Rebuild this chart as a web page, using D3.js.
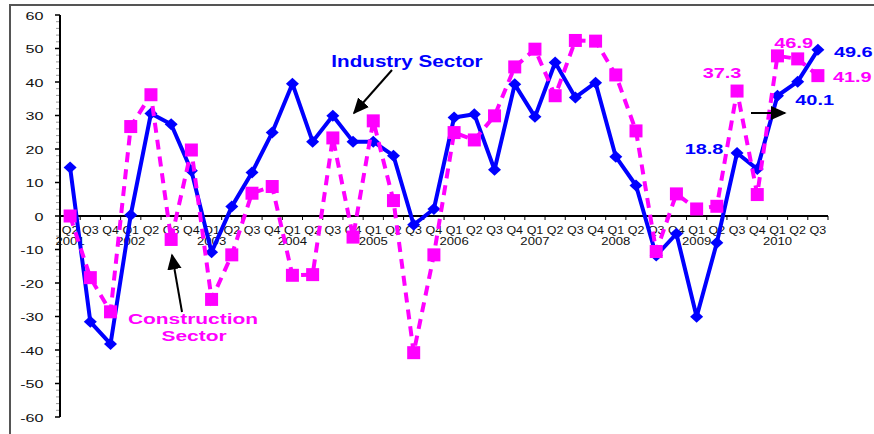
<!DOCTYPE html>
<html><head><meta charset="utf-8">
<script src="https://cdn.jsdelivr.net/npm/d3@7"></script>
<style>body{margin:0;background:#fff}svg{display:block}text{font-family:"Liberation Sans",Arial,sans-serif}</style>
</head><body><div id="chart"></div>
<script>
const categories = [
 "2001 Q2","2001 Q3","2001 Q4",
 "2002 Q1","2002 Q2","2002 Q3","2002 Q4",
 "2003 Q1","2003 Q2","2003 Q3","2003 Q4",
 "2004 Q1","2004 Q2","2004 Q3","2004 Q4",
 "2005 Q1","2005 Q2","2005 Q3","2005 Q4",
 "2006 Q1","2006 Q2","2006 Q3","2006 Q4",
 "2007 Q1","2007 Q2","2007 Q3","2007 Q4",
 "2008 Q1","2008 Q2","2008 Q3","2008 Q4",
 "2009 Q1","2009 Q2","2009 Q3","2009 Q4",
 "2010 Q1","2010 Q2","2010 Q3"];
const industry = [14.5,-31.6,-38.2,0.3,30.6,27.4,13.5,-10.8,2.8,13.0,24.9,39.5,22.2,29.9,22.2,22.2,18.0,-2.6,2.1,29.4,30.4,13.8,39.3,29.6,45.8,35.4,39.8,17.7,9.1,-11.8,-5.3,-30.1,-8.0,18.8,14.0,35.9,40.1,49.6];
const construction = [0,-18.4,-28.6,26.7,36.2,-7.0,19.7,-24.9,-11.6,6.8,8.8,-17.7,-17.5,23.3,-6.3,28.4,4.6,-40.8,-11.6,24.9,22.7,29.9,44.5,49.8,35.9,52.4,52.2,42.1,25.4,-10.6,6.6,2.1,2.9,37.3,6.4,47.8,46.9,41.9];
const yTicks = [-60,-50,-40,-30,-20,-10,0,10,20,30,40,50,60];
const seriesNames = ["Industry Sector","Construction Sector"];
const valueLabels = [
 {series:"industry", cat:"2009 Q3", text:"18.8"},
 {series:"industry", cat:"2010 Q2", text:"40.1"},
 {series:"industry", cat:"2010 Q3", text:"49.6"},
 {series:"construction", cat:"2009 Q3", text:"37.3"},
 {series:"construction", cat:"2010 Q2", text:"46.9"},
 {series:"construction", cat:"2010 Q3", text:"41.9"}];

const W=874,H=434;
const BLUE="#0000FF", MAG="#FF00FF";
const svg=d3.select("#chart").append("svg").attr("width",W).attr("height",H);
svg.append("rect").attr("width",W).attr("height",H).attr("fill","#fff");
svg.append("rect").attr("x",10).attr("y",5).attr("width",900).attr("height",460)
  .attr("fill","none").attr("stroke","#555").attr("stroke-width",2);

const defs=svg.append("defs");
defs.append("marker").attr("id","ah").attr("viewBox","0 0 10 10").attr("refX",9).attr("refY",5)
 .attr("markerWidth",8).attr("markerHeight",8).attr("markerUnits","strokeWidth").attr("orient","auto")
 .append("path").attr("d","M0,0.5L10,5L0,9.5Z").attr("fill","#000");

const x=d3.scaleBand().domain(categories).range([60,828]);
const y=d3.scaleLinear().domain([-60,60]).range([417,15]);
const cx=c=>x(c)+x.bandwidth()/2;

function stretched(g, tx, ty, txt, opts){
  return g.append("text").attr("transform",`translate(${tx},${ty}) scale(${opts.sx||1},1)`)
   .attr("text-anchor",opts.anchor||"middle").attr("font-size",opts.size)
   .attr("font-weight",opts.weight||"normal").attr("fill",opts.fill||"#000").text(txt);
}

// y axis
const yg=svg.append("g");
const minor=d3.range(-60,61,2).filter(v=>v%10!==0);
yg.selectAll("line.minor").data(minor).join("line").attr("x1",56).attr("x2",60)
 .attr("y1",d=>y(d)).attr("y2",d=>y(d)).attr("stroke","#999").attr("stroke-width",1);
yg.selectAll("line.major").data(yTicks).join("line").attr("x1",55).attr("x2",60)
 .attr("y1",d=>y(d)).attr("y2",d=>y(d)).attr("stroke","#000").attr("stroke-width",1.5);
yg.append("line").attr("x1",60).attr("x2",60).attr("y1",y(60)).attr("y2",y(-60)).attr("stroke","#000").attr("stroke-width",2);
yTicks.forEach(v=>stretched(yg,43.5,y(v)+4.5,String(v),{size:11.5,sx:1.4,anchor:"end",fill:"#111"}));

// x axis
const xg=svg.append("g");
const bounds=categories.map(c=>x(c)).concat([x.range()[1]]);
xg.selectAll("line.t").data(bounds.slice(1)).join("line").attr("x1",d=>d).attr("x2",d=>d)
 .attr("y1",y(0)).attr("y2",y(0)+4).attr("stroke","#000").attr("stroke-width",1);
xg.append("line").attr("x1",60).attr("x2",828).attr("y1",y(0)).attr("y2",y(0)).attr("stroke","#000").attr("stroke-width",2);
categories.forEach(c=>{
  const q=c.split(" ")[1];
  stretched(xg,cx(c),y(0)+18,q,{size:10,sx:1.25,fill:"#111"});
});
const seen=new Set();
categories.forEach(c=>{
  const yr=c.split(" ")[0];
  if(!seen.has(yr)){seen.add(yr);stretched(xg,cx(c),y(0)+28.5,yr,{size:10.5,sx:1.25,fill:"#111"});}
});

// lines
const line=d3.line().x((d,i)=>cx(categories[i])).y(d=>y(d));
svg.append("path").datum(industry).attr("d",line).attr("fill","none").attr("stroke",BLUE)
 .attr("stroke-width",4).attr("stroke-linejoin","round");
svg.selectAll("path.dia").data(industry).join("path")
 .attr("d","M0,-6L6.5,0L0,6L-6.5,0Z").attr("fill",BLUE)
 .attr("transform",(d,i)=>`translate(${cx(categories[i])},${y(d)})`);
svg.append("path").datum(construction).attr("d",line).attr("fill","none").attr("stroke",MAG)
 .attr("stroke-width",4).attr("stroke-dasharray","10,7");
svg.selectAll("rect.sq").data(construction).join("rect")
 .attr("x",(d,i)=>cx(categories[i])-6.5).attr("y",d=>y(d)-6.5).attr("width",13).attr("height",13).attr("fill",MAG);

// value labels (offset from point: dx, baseline dy, anchor)
const lab=svg.append("g");
const vpos={"industry|2009 Q3":[-33,1,"middle"],"industry|2010 Q2":[17,23,"middle"],"industry|2010 Q3":[16,7,"start"],
 "construction|2009 Q3":[-15,-13,"middle"],"construction|2010 Q2":[-4,-11,"middle"],"construction|2010 Q3":[15,6,"start"]};
valueLabels.forEach(v=>{
  const arr=v.series==="industry"?industry:construction;
  const val=arr[categories.indexOf(v.cat)];
  const o=vpos[v.series+"|"+v.cat];
  stretched(lab,cx(v.cat)+o[0],y(val)+o[1],v.text,{size:15,sx:1.33,weight:"bold",anchor:o[2],fill:v.series==="industry"?BLUE:MAG});
});

// annotations
const ann=svg.append("g");
stretched(ann,407,67,seriesNames[0],{size:16,sx:1.29,weight:"bold",fill:BLUE});
stretched(ann,193,324,"Construction",{size:15.5,sx:1.35,weight:"bold",fill:MAG});
stretched(ann,194,341,"Sector",{size:15.5,sx:1.35,weight:"bold",fill:MAG});
ann.append("line").attr("x1",392).attr("y1",70).attr("x2",354).attr("y2",113).attr("stroke","#000").attr("stroke-width",2).attr("marker-end","url(#ah)");
ann.append("line").attr("x1",182).attr("y1",312).attr("x2",172).attr("y2",255).attr("stroke","#000").attr("stroke-width",2).attr("marker-end","url(#ah)");
ann.append("line").attr("x1",751).attr("y1",113).attr("x2",785).attr("y2",113).attr("stroke","#000").attr("stroke-width",2).attr("marker-end","url(#ah)");
</script></body></html>
